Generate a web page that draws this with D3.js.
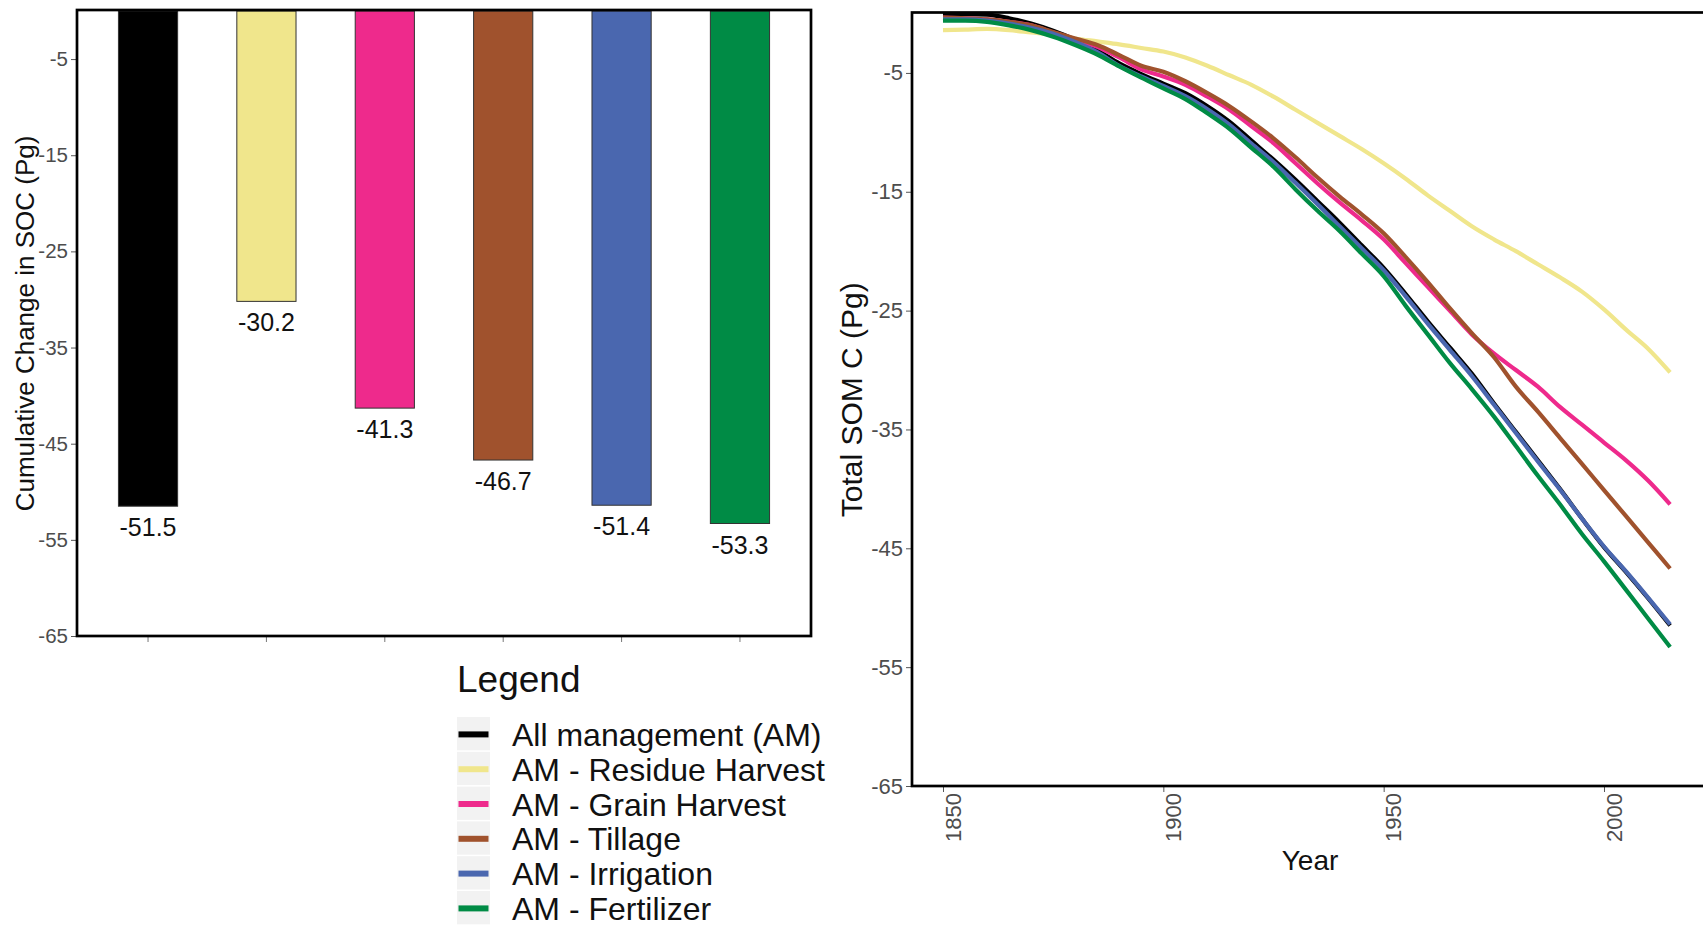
<!DOCTYPE html>
<html>
<head>
<meta charset="utf-8">
<script src="https://cdn.jsdelivr.net/npm/d3@7/dist/d3.min.js"></script>
<style>
  html, body { margin: 0; padding: 0; background: #fff; }
  svg { display: block; font-family: "Liberation Sans", Arial, sans-serif; }
</style>
</head>
<body>
<svg id="chart" width="1703" height="926"></svg>
<script>
// ---------------- data ----------------
const categories = ["All management (AM)", "AM - Residue Harvest", "AM - Grain Harvest", "AM - Tillage", "AM - Irrigation", "AM - Fertilizer"];
const seriesColors = ["#000000", "#F0E68C", "#EE2A8C", "#A0522D", "#4A67AF", "#008B45"];
const cumulativeChange = [-51.5, -30.2, -41.3, -46.7, -51.4, -53.3];
const barTickValues = [-5, -15, -25, -35, -45, -55, -65];

const years = [1850, 1855, 1860, 1865, 1870, 1875, 1880, 1885, 1890, 1895, 1900, 1905, 1910, 1915, 1920, 1925, 1930,
  1935, 1940, 1945, 1950, 1955, 1960, 1965, 1970, 1975, 1980, 1985, 1990, 1995, 2000, 2005, 2010, 2015];
const somAllManagement = [-0.1, -0.05, -0.1, -0.4, -0.85, -1.45, -2.2, -3.1, -4.2, -5.1, -5.9, -6.7, -7.8, -9.1, -10.7, -12.3,
  -14.0, -15.8, -17.6, -19.5, -21.4, -23.6, -25.9, -28.1, -30.3, -32.8, -35.2, -37.6, -40.0, -42.5, -44.9, -47.0, -49.2, -51.5];
const somResidue = [-1.4, -1.35, -1.3, -1.4, -1.6, -1.8, -2.1, -2.35, -2.6, -2.9, -3.2, -3.7, -4.4, -5.2, -6.0, -7.0,
  -8.1, -9.2, -10.3, -11.4, -12.6, -13.9, -15.3, -16.6, -17.9, -19.0, -20.0, -21.1, -22.2, -23.4, -24.9, -26.6, -28.2, -30.2];
const somGrain = [-0.35, -0.4, -0.5, -0.7, -1.0, -1.6, -2.2, -2.8, -3.7, -4.7, -5.3, -6.0, -7.0, -8.1, -9.5, -10.9,
  -12.6, -14.3, -15.9, -17.4, -19.0, -21.0, -23.0, -25.0, -27.0, -28.6, -30.0, -31.4, -33.1, -34.6, -36.1, -37.6, -39.3, -41.3];
const somTillage = [-0.35, -0.4, -0.5, -0.7, -1.0, -1.55, -2.1, -2.65, -3.5, -4.4, -4.9, -5.7, -6.7, -7.8, -9.1, -10.5,
  -12.1, -13.8, -15.4, -16.9, -18.5, -20.5, -22.6, -24.8, -26.9, -28.9, -31.4, -33.5, -35.7, -37.9, -40.1, -42.3, -44.5, -46.7];
const somIrrigation = [-0.5, -0.5, -0.6, -0.85, -1.2, -1.7, -2.4, -3.25, -4.4, -5.3, -6.1, -6.95, -8.05, -9.35, -10.95, -12.5,
  -14.25, -16.05, -17.9, -19.75, -21.6, -23.8, -26.1, -28.3, -30.5, -32.9, -35.3, -37.7, -40.05, -42.5, -44.85, -46.95, -49.15, -51.4];
const somFertilizer = [-0.6, -0.6, -0.7, -1.0, -1.4, -1.95, -2.65, -3.45, -4.45, -5.4, -6.3, -7.2, -8.4, -9.7, -11.3, -12.9,
  -14.8, -16.6, -18.3, -20.2, -22.1, -24.6, -27.0, -29.4, -31.6, -33.9, -36.4, -38.9, -41.3, -43.8, -46.1, -48.5, -50.9, -53.3];
const somSeries = [somAllManagement, somResidue, somGrain, somTillage, somIrrigation, somFertilizer];
const lineYTickValues = [-5, -15, -25, -35, -45, -55, -65];
const lineXTickValues = [1850, 1900, 1950, 2000];

// ---------------- drawing ----------------
const svg = d3.select("#chart");
const tickGrey = "#4D4D4D";
const plainFmt = d => String(d);

// ===== Left panel: bars =====
const L = { left: 77, right: 811, top: 10, bottom: 636 };
const xBar = d3.scaleBand().domain(categories).range([L.left, L.right]).paddingInner(0.5).paddingOuter(0.35);
const yBar = d3.scaleLinear().domain([-65, 0]).range([L.bottom, 11]);

const barData = categories.map((c, i) => ({ c, v: cumulativeChange[i], color: seriesColors[i] }));

svg.append("g").selectAll("rect").data(barData).join("rect")
  .attr("x", d => xBar(d.c))
  .attr("y", yBar(0))
  .attr("width", xBar.bandwidth())
  .attr("height", d => yBar(d.v) - yBar(0))
  .attr("fill", d => d.color)
  .attr("stroke", "#333")
  .attr("stroke-width", 1);

svg.append("g").selectAll("text").data(barData).join("text")
  .attr("x", d => xBar(d.c) + xBar.bandwidth() / 2)
  .attr("y", d => yBar(d.v) + 30)
  .attr("text-anchor", "middle")
  .attr("font-size", 25)
  .attr("fill", "#111")
  .text(d => d.v.toFixed(1));

// y axis
const yAxisL = svg.append("g").attr("transform", `translate(${L.left},0)`)
  .call(d3.axisLeft(yBar).tickValues(barTickValues).tickSize(6).tickPadding(3).tickFormat(plainFmt));
yAxisL.select(".domain").remove();
yAxisL.selectAll("line").attr("stroke", "#555");
yAxisL.selectAll("text").attr("font-size", 20.5).attr("fill", tickGrey).attr("font-family", "Liberation Sans, Arial, sans-serif");

// x axis (ticks only)
const xAxisL = svg.append("g").attr("transform", `translate(0,${L.bottom})`)
  .call(d3.axisBottom(xBar).tickSize(6).tickFormat(""));
xAxisL.select(".domain").remove();
xAxisL.selectAll("line").attr("stroke", "#777");

svg.append("rect")
  .attr("x", L.left).attr("y", L.top)
  .attr("width", L.right - L.left).attr("height", L.bottom - L.top)
  .attr("fill", "none").attr("stroke", "#000").attr("stroke-width", 2.7);

svg.append("text")
  .attr("transform", `translate(34,${(11 + L.bottom) / 2}) rotate(-90)`)
  .attr("text-anchor", "middle")
  .attr("font-size", 26)
  .attr("fill", "#111")
  .text("Cumulative Change in SOC (Pg)");

// ===== Legend =====
const lg = svg.append("g");
lg.append("text").attr("x", 457).attr("y", 692).attr("font-size", 37).attr("fill", "#111").text("Legend");
const rowStep = 34.8, rowTop = 717;
categories.forEach((c, i) => {
  const top = rowTop + i * rowStep;
  lg.append("rect").attr("x", 457).attr("y", top).attr("width", 33).attr("height", rowStep - 1.5).attr("fill", "#F2F2F2");
  lg.append("line").attr("x1", 458.5).attr("x2", 488.5)
    .attr("y1", top + rowStep / 2).attr("y2", top + rowStep / 2)
    .attr("stroke", seriesColors[i]).attr("stroke-width", 6);
  lg.append("text").attr("x", 512).attr("y", top + rowStep / 2 + 11.5)
    .attr("font-size", 32).attr("fill", "#111").text(c);
});

// ===== Right panel: lines =====
const R = { left: 912, right: 1708, top: 12.5, bottom: 786 };
const xLine = d3.scaleLinear().domain([1850, 2000]).range([943, 1604]);
const yLine = d3.scaleLinear().domain([-65, 0]).range([786, 13.5]);

const lineGen = d3.line()
  .x((d, i) => xLine(years[i]))
  .y(d => yLine(d))
  .curve(d3.curveMonotoneX);

svg.append("g").selectAll("path").data(somSeries).join("path")
  .attr("d", d => lineGen(d))
  .attr("fill", "none")
  .attr("stroke", (d, i) => seriesColors[i])
  .attr("stroke-width", 4.2)
  .attr("stroke-linejoin", "round");

const yAxisR = svg.append("g").attr("transform", `translate(${R.left},0)`)
  .call(d3.axisLeft(yLine).tickValues(lineYTickValues).tickSize(6).tickPadding(3).tickFormat(plainFmt));
yAxisR.select(".domain").remove();
yAxisR.selectAll("line").attr("stroke", "#555");
yAxisR.selectAll("text").attr("font-size", 22).attr("fill", tickGrey).attr("font-family", "Liberation Sans, Arial, sans-serif");

const xAxisR = svg.append("g").attr("transform", `translate(0,${R.bottom})`)
  .call(d3.axisBottom(xLine).tickValues(lineXTickValues).tickSize(6).tickFormat(plainFmt));
xAxisR.select(".domain").remove();
xAxisR.selectAll("line").attr("stroke", "#555");
xAxisR.selectAll("text")
  .attr("font-size", 22).attr("fill", tickGrey).attr("font-family", "Liberation Sans, Arial, sans-serif")
  .attr("dy", null).attr("y", null)
  .attr("text-anchor", "end")
  .attr("transform", "translate(17,7) rotate(-90)");

svg.append("rect")
  .attr("x", R.left).attr("y", R.top)
  .attr("width", R.right - R.left).attr("height", R.bottom - R.top)
  .attr("fill", "none").attr("stroke", "#000").attr("stroke-width", 2.7);

svg.append("text")
  .attr("transform", `translate(862,${(13.5 + R.bottom) / 2}) rotate(-90)`)
  .attr("text-anchor", "middle")
  .attr("font-size", 30)
  .attr("fill", "#111")
  .text("Total SOM C (Pg)");

svg.append("text")
  .attr("x", 1310).attr("y", 870)
  .attr("text-anchor", "middle")
  .attr("font-size", 28)
  .attr("fill", "#111")
  .text("Year");
</script>
</body>
</html>
